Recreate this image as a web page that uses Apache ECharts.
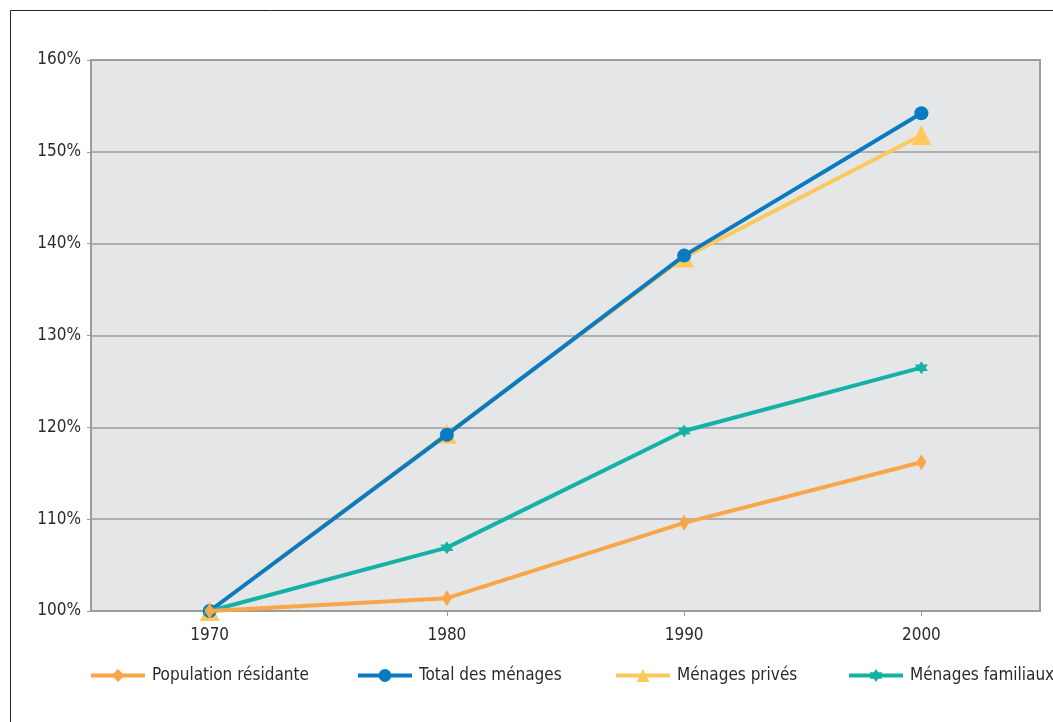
<!DOCTYPE html>
<html>
<head>
<meta charset="utf-8">
<script src="https://cdn.jsdelivr.net/npm/echarts@6/dist/echarts.min.js"></script>
<style>
  html, body { margin: 0; padding: 0; background: #ffffff; }
  #chart { width: 1053px; height: 722px; }
</style>
</head>
<body>
<div id="chart"></div>
<script>
// Index of growth, 1970 = 100%
const years = ['1970', '1980', '1990', '2000'];
const populationResidante = [100, 101.4, 109.6, 116.2];
const totalMenages = [100, 119.2, 138.7, 154.2];
const menagesPrives = [100, 119.3, 138.5, 151.8];
const menagesFamiliaux = [100, 106.9, 119.6, 126.5];

const yMin = 100, yMax = 160, yStep = 10;

const FONT = '"DejaVu Sans Condensed", "Liberation Sans", sans-serif';
const FONT_SIZE = 17;
const TEXT = '#2b2b2b';
const GRID_GRAY = '#9c9c9c';

// six-pointed star marker
const STAR = 'path://M0,-10 L2.9,-5 L8.66,-5 L5.8,0 L8.66,5 L2.9,5 L0,10 L-2.9,5 L-8.66,5 L-5.8,0 L-8.66,-5 L-2.9,-5 Z';

const defs = [
  { name: 'Population résidante', data: populationResidante, color: '#f9a64a', symbol: 'diamond', size: [10, 16], z: 5, legendLeft: 89 },
  { name: 'Total des ménages', data: totalMenages, color: '#0a7bc2', symbol: 'circle', size: 14, z: 3, legendLeft: 356 },
  { name: 'Ménages privés', data: menagesPrives, color: '#fdc95e', symbol: 'triangle', size: 20, z: 2, legendLeft: 614 },
  { name: 'Ménages familiaux', data: menagesFamiliaux, color: '#14b1a5', symbol: STAR, size: 13, z: 4, legendLeft: 847 }
];

const chart = echarts.init(document.getElementById('chart'), null, { renderer: 'canvas' });

chart.setOption({
  animation: false,
  backgroundColor: '#ffffff',
  textStyle: { fontFamily: FONT },
  graphic: [{
    type: 'rect',
    shape: { x: 10.5, y: 10.5, width: 1100, height: 800 },
    style: { fill: 'none', stroke: '#222222', lineWidth: 1 },
    silent: true
  }],
  grid: {
    left: 91, right: 13, top: 60, bottom: 111,
    show: true,
    backgroundColor: '#e5e6e8',
    borderColor: GRID_GRAY,
    borderWidth: 2
  },
  legend: defs.map(d => ({
    data: [d.name],
    left: d.legendLeft,
    top: 667,
    padding: 0,
    itemWidth: 54,
    itemHeight: 16,
    itemGap: 0,
    lineStyle: { width: 4 },
    textStyle: { fontFamily: FONT, fontSize: FONT_SIZE, color: TEXT, padding: [0, 0, 0, 2] }
  })),
  xAxis: {
    type: 'category',
    data: years,
    boundaryGap: true,
    axisLine: { show: true, lineStyle: { color: GRID_GRAY, width: 2 } },
    axisTick: { show: true, alignWithLabel: true, length: 5, lineStyle: { color: GRID_GRAY, width: 1 } },
    axisLabel: { fontFamily: FONT, fontSize: FONT_SIZE, color: TEXT, margin: 16 },
    splitLine: { show: false }
  },
  yAxis: {
    type: 'value',
    min: yMin, max: yMax, interval: yStep,
    axisLine: { show: true, lineStyle: { color: GRID_GRAY, width: 2 } },
    axisTick: { show: true, length: 4, lineStyle: { color: GRID_GRAY, width: 1 } },
    axisLabel: { fontFamily: FONT, fontSize: FONT_SIZE, color: TEXT, margin: 10, formatter: v => v + '%' },
    splitLine: { show: true, lineStyle: { color: GRID_GRAY, width: 1.5 } }
  },
  series: defs.map(d => ({
    name: d.name,
    type: 'line',
    data: d.data,
    z: d.z,
    symbol: d.symbol,
    symbolSize: d.size,
    showSymbol: true,
    lineStyle: { color: d.color, width: 4 },
    itemStyle: { color: d.color, borderWidth: 0 },
    emphasis: { disabled: true }
  }))
});
</script>
</body>
</html>
